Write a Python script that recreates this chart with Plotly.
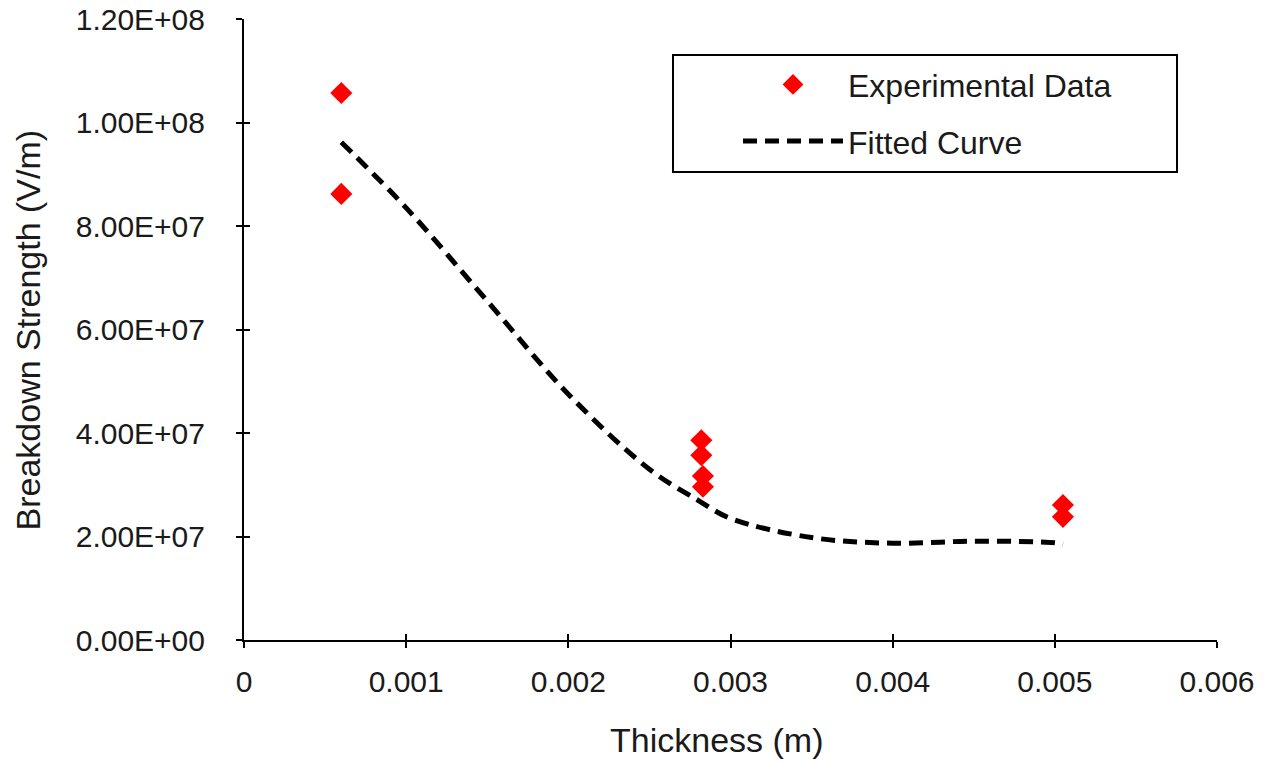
import plotly.graph_objects as go

exp_x = [0.0006, 0.0006, 0.00282, 0.00282, 0.00283, 0.00283, 0.00505, 0.00505]
exp_y = [1.057e8, 8.62e7, 3.86e7, 3.57e7, 3.17e7, 2.96e7, 2.61e7, 2.38e7]

fit_x = [0.0006, 0.001, 0.0015, 0.002, 0.0025, 0.0028, 0.003, 0.0035, 0.004, 0.0045, 0.005, 0.00505]
fit_y = [9.62e7, 8.35e7, 6.55e7, 4.75e7, 3.3e7, 2.7e7, 2.35e7, 1.98e7, 1.87e7, 1.91e7, 1.88e7, 1.85e7]

x_ticks = [0, 0.001, 0.002, 0.003, 0.004, 0.005, 0.006]
x_labels = ["0", "0.001", "0.002", "0.003", "0.004", "0.005", "0.006"]
y_ticks = [0, 2e7, 4e7, 6e7, 8e7, 1e8, 1.2e8]
y_labels = ["0.00E+00", "2.00E+07", "4.00E+07", "6.00E+07", "8.00E+07", "1.00E+08", "1.20E+08"]

x_title = "Thickness (m)"
y_title = "Breakdown Strength (V/m)"

FONT = "Liberation Sans, Arial, sans-serif"
TXT = "#1a1a1a"

fig = go.Figure()
fig.add_trace(go.Scatter(x=exp_x, y=exp_y, mode="markers", name="Experimental Data",
                         legendgroup="a",
                         marker=dict(symbol="diamond", size=17, color="#ff0000")))
fig.add_trace(go.Scatter(x=fit_x, y=fit_y, mode="lines", name="Fitted Curve", line_shape="spline",
                         legendgroup="b",
                         line=dict(color="black", width=5, dash="14px,8px")))
# invisible trace on secondary axes for inward (crossing) ticks
fig.add_trace(go.Scatter(x=[0], y=[0], xaxis="x2", yaxis="y2", mode="markers",
                         marker=dict(opacity=0), showlegend=False, hoverinfo="skip"))

axis_common = dict(showgrid=False, zeroline=False, showline=True, linecolor="black", linewidth=2,
                   ticks="outside", ticklen=6, tickwidth=2, tickcolor="black", automargin=False,
                   ticklabeloverflow="allow",
                   tickfont=dict(family=FONT, size=30, color=TXT))

fig.update_layout(
    width=1271, height=762,
    paper_bgcolor="white", plot_bgcolor="white",
    margin=dict(l=236, r=62, t=11, b=130),
    font=dict(family=FONT, color=TXT),
    xaxis=dict(range=[0, 0.006], tickvals=x_ticks, ticktext=x_labels, ticklabelstandoff=8,
               **axis_common),
    yaxis=dict(range=[0, 1.2e8], tickvals=y_ticks, ticktext=y_labels, ticklabelstandoff=25,
               **axis_common),
    xaxis2=dict(range=[0, 0.006], tickvals=x_ticks, overlaying="x", showticklabels=False, showgrid=False,
                zeroline=False, ticks="inside", ticklen=6, tickwidth=2, tickcolor="black", automargin=False),
    yaxis2=dict(range=[0, 1.2e8], tickvals=y_ticks, overlaying="y", showticklabels=False, showgrid=False,
                zeroline=False, ticks="inside", ticklen=6, tickwidth=2, tickcolor="black", automargin=False),
    legend=dict(x=0.5077, y=0.9386, xanchor="left", yanchor="top", borderwidth=0,
                bgcolor="rgba(0,0,0,0)", font=dict(family=FONT, size=32, color=TXT),
                itemwidth=100, traceorder="grouped", tracegroupgap=12),
    shapes=[dict(type="rect", xref="paper", yref="paper", x0=0.4409, x1=0.9589, y0=0.7536, y1=0.942,
                 line=dict(color="black", width=2), fillcolor="rgba(0,0,0,0)", layer="below")],
    annotations=[
        dict(text=x_title, xref="paper", yref="paper", x=0.4861, y=-0.161, xanchor="center", yanchor="middle",
             showarrow=False, font=dict(family=FONT, size=34, color=TXT)),
        dict(text=y_title, xref="paper", yref="paper", x=-0.222, y=0.5, xanchor="center", yanchor="middle",
             textangle=-90, showarrow=False, font=dict(family=FONT, size=34, color=TXT)),
    ],
    showlegend=True,
)

fig.write_html("out.html")
